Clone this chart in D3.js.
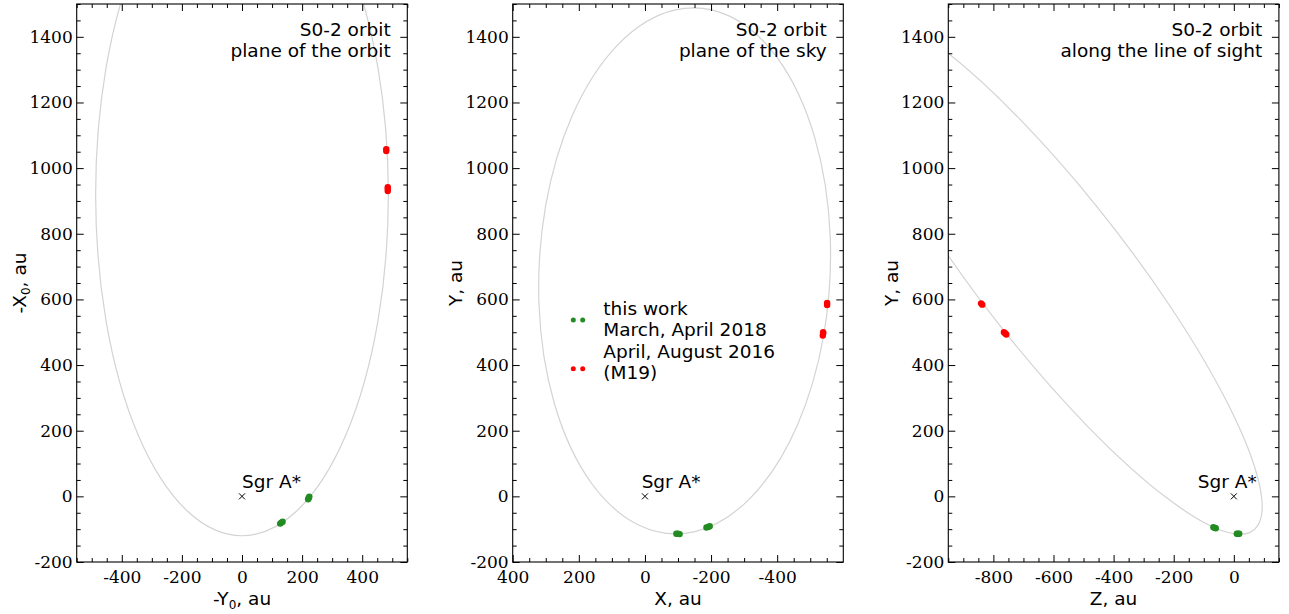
<!DOCTYPE html>
<html>
<head>
<meta charset="utf-8">
<script src="https://cdn.jsdelivr.net/npm/d3@7"></script>
<style>
  html, body { margin: 0; padding: 0; background: #fff; }
  svg { display: block; }
  .frame { fill: none; stroke: #000; stroke-width: 1.1; }
  .tick line { stroke: #000; stroke-width: 1; }
  .sans { font-family: "DejaVu Sans", sans-serif; font-size: 18.5px; fill: #000; }
</style>
</head>
<body>
<div id="chart-area"><svg></svg></div>
<script>
const chartSize = { width: 1289, height: 614 };
const panelLeft = [76.7, 512.7, 948.3];
const panelWidth = 330.6;
const plotTop = 4;
const plotBottom = 562;

// --- data ---
const panelTitles = [
  ["S0-2 orbit", "plane of the orbit"],
  ["S0-2 orbit", "plane of the sky"],
  ["S0-2 orbit", "along the line of sight"]
];
const xAxisNames = [["-Y", "0"], ["X", ""], ["Z", ""]];
const yAxisNames = [["-X", "0"], ["Y", ""], ["Y", ""]];
const xDomains = [[-550, 550], [400, -600], [-950, 150]];
const yDomain = [-200, 1500];
const xTickValues = [
  [-400, -200, 0, 200, 400],
  [400, 200, 0, -200, -400],
  [-800, -600, -400, -200, 0]
];
const yTickValues = [-200, 0, 200, 400, 600, 800, 1000, 1200, 1400];

// orbit ellipse: centre, half-axis towards pericentre, conjugate half-axis
const orbitCentre = [[0, 920], [-120, 687], [-600, 682]];
const orbitToPericentre = [[0, -1040], [136, -776], [679, -772]];
const orbitSideAxis = [[-487, 0], [420, 200], [145, 200]];

// this work, March / April 2018
const work2018Orbit = [[127, -83], [131, -80], [135, -77], [220, -9], [222, -5], [224, -1]];
const work2018Sky = [[-95, -114], [-100, -114], [-105, -115], [-186, -95], [-191, -93], [-196, -91]];
const work2018Los = [[-68, -94], [-64, -96], [-60, -97], [10, -114], [14, -114], [18, -114]];
// April / August 2016 (M19)
const m19Orbit = [[480, 1052], [480, 1058], [485, 930], [485, 936], [485, 942]];
const m19Sky = [[-551, 583], [-551, 589], [-538, 490], [-539, 496], [-539, 500]];
const m19Los = [[-841, 588], [-837, 584], [-765, 500], [-761, 497], [-757, 493]];

const sgrLabelAt = [[0, 25], [10, 25], [-120, 25]];
const legendLabels = [["this work", "March, April 2018"], ["April, August 2016", "(M19)"]];

const colours = { work: "#228b22", m19: "#ff0000", orbit: "#d3d3d3" };

const panelPoints = [
  { work: work2018Orbit, m19: m19Orbit },
  { work: work2018Sky, m19: m19Sky },
  { work: work2018Los, m19: m19Los }
];

const minorValues = function(domain, majors) {
  const lo = Math.min(...domain), hi = Math.max(...domain);
  return d3.range(Math.ceil(lo / 50) * 50, hi + 0.1, 50).filter(v => !majors.includes(v) && v % 200 !== 0);
};

const styleAxis = function(g) {
  g.select(".domain").remove();
  g.attr("font-family", "DejaVu Serif").attr("font-size", 17);
  g.selectAll(".tick text").attr("fill", "#000");
};

const addAxisLabel = function(text, name) {
  text.append("tspan").text(name[0]);
  if (name[1]) {
    text.append("tspan").attr("font-size", "12px").attr("dy", 4).text(name[1]);
    text.append("tspan").attr("dy", -4).text(", au");
  } else {
    text.append("tspan").text(", au");
  }
};

const drawPanel = function(svg, i) {
  const left = panelLeft[i];
  const right = left + panelWidth;
  const x = d3.scaleLinear().domain(xDomains[i]).range([left, right]);
  const y = d3.scaleLinear().domain(yDomain).range([plotBottom, plotTop]);
  const g = svg.append("g").attr("class", "panel");

  svg.append("clipPath").attr("id", "clip" + i)
    .append("rect")
    .attr("x", left).attr("y", plotTop)
    .attr("width", panelWidth).attr("height", plotBottom - plotTop);

  const plot = g.append("g").attr("clip-path", `url(#clip${i})`);

  // orbit as unit circle mapped through the scales
  const kx = x(1) - x(0);
  const ky = y(1) - y(0);
  const c = orbitCentre[i], a = orbitToPericentre[i], b = orbitSideAxis[i];
  plot.append("circle")
    .attr("r", 1)
    .attr("transform", `matrix(${kx * a[0]},${ky * a[1]},${kx * b[0]},${ky * b[1]},${x(c[0])},${y(c[1])})`)
    .attr("fill", "none")
    .attr("stroke", colours.orbit)
    .attr("stroke-width", 1.2)
    .attr("vector-effect", "non-scaling-stroke");

  ["m19", "work"].forEach(key => {
    plot.selectAll(".pt-" + key)
      .data(panelPoints[i][key])
      .join("circle")
      .attr("class", "pt-" + key)
      .attr("cx", d => x(d[0]))
      .attr("cy", d => y(d[1]))
      .attr("r", 3.2)
      .attr("fill", colours[key]);
  });

  // Sgr A*
  const x0 = x(0), y0 = y(0);
  plot.append("path")
    .attr("d", `M${x0 - 3},${y0 - 3}L${x0 + 3},${y0 + 3}M${x0 - 3},${y0 + 3}L${x0 + 3},${y0 - 3}`)
    .attr("stroke", "#000")
    .attr("stroke-width", 1);
  g.append("text")
    .attr("class", "sans")
    .attr("x", x(sgrLabelAt[i][0]))
    .attr("y", y(sgrLabelAt[i][1]))
    .text("Sgr A*");

  // axes
  const xMinor = minorValues(xDomains[i], xTickValues[i]);
  const yMinor = minorValues(yDomain, yTickValues);

  g.append("g").attr("transform", `translate(0,${plotBottom})`)
    .call(d3.axisBottom(x).tickValues(xTickValues[i]).tickSize(-7).tickPadding(8.5).tickFormat(d => String(d)))
    .call(styleAxis);
  g.append("g").attr("transform", `translate(0,${plotBottom})`)
    .call(d3.axisBottom(x).tickValues(xMinor).tickSize(-4).tickFormat(""))
    .call(styleAxis);
  g.append("g").attr("transform", `translate(0,${plotTop})`)
    .call(d3.axisTop(x).tickValues(xTickValues[i]).tickSize(-7).tickFormat(""))
    .call(styleAxis);
  g.append("g").attr("transform", `translate(0,${plotTop})`)
    .call(d3.axisTop(x).tickValues(xMinor).tickSize(-4).tickFormat(""))
    .call(styleAxis);

  g.append("g").attr("transform", `translate(${left},0)`)
    .call(d3.axisLeft(y).tickValues(yTickValues).tickSize(-7).tickPadding(4).tickFormat(d => String(d)))
    .call(styleAxis);
  g.append("g").attr("transform", `translate(${left},0)`)
    .call(d3.axisLeft(y).tickValues(yMinor).tickSize(-4).tickFormat(""))
    .call(styleAxis);
  g.append("g").attr("transform", `translate(${right},0)`)
    .call(d3.axisRight(y).tickValues(yTickValues).tickSize(-7).tickFormat(""))
    .call(styleAxis);
  g.append("g").attr("transform", `translate(${right},0)`)
    .call(d3.axisRight(y).tickValues(yMinor).tickSize(-4).tickFormat(""))
    .call(styleAxis);

  g.append("rect")
    .attr("class", "frame")
    .attr("x", left).attr("y", plotTop)
    .attr("width", panelWidth).attr("height", plotBottom - plotTop);

  // titles
  panelTitles[i].forEach((line, k) => {
    g.append("text")
      .attr("class", "sans")
      .attr("text-anchor", "end")
      .attr("x", right - 16.6)
      .attr("y", 35.7 + k * 21.3)
      .text(line);
  });

  // axis labels
  const xl = g.append("text")
    .attr("class", "sans")
    .attr("text-anchor", "middle")
    .attr("x", (left + right) / 2)
    .attr("y", 605);
  addAxisLabel(xl, xAxisNames[i]);

  const yl = g.append("text")
    .attr("class", "sans")
    .attr("text-anchor", "middle")
    .attr("transform", `translate(${left - 50.7},${(plotTop + plotBottom) / 2}) rotate(-90)`);
  addAxisLabel(yl, yAxisNames[i]);
};

const drawLegend = function(svg) {
  const legend = svg.append("g").attr("class", "legend");
  const entries = [
    { colour: colours.work, lines: legendLabels[0], dotY: 320, textY: 315 },
    { colour: colours.m19, lines: legendLabels[1], dotY: 368.7, textY: 357.5 }
  ];
  entries.forEach(e => {
    legend.selectAll(null)
      .data([573.3, 582.7])
      .join("circle")
      .attr("cx", d => d)
      .attr("cy", e.dotY)
      .attr("r", 2.5)
      .attr("fill", e.colour);
    e.lines.forEach((line, k) => {
      legend.append("text")
        .attr("class", "sans")
        .attr("x", 603.3)
        .attr("y", e.textY + k * 21)
        .text(line);
    });
  });
};

const main = function() {
  const svg = d3.select("#chart-area svg")
    .attr("width", chartSize.width)
    .attr("height", chartSize.height);
  [0, 1, 2].forEach(i => drawPanel(svg, i));
  drawLegend(svg);
};

window.onload = main;
</script>
</body>
</html>
